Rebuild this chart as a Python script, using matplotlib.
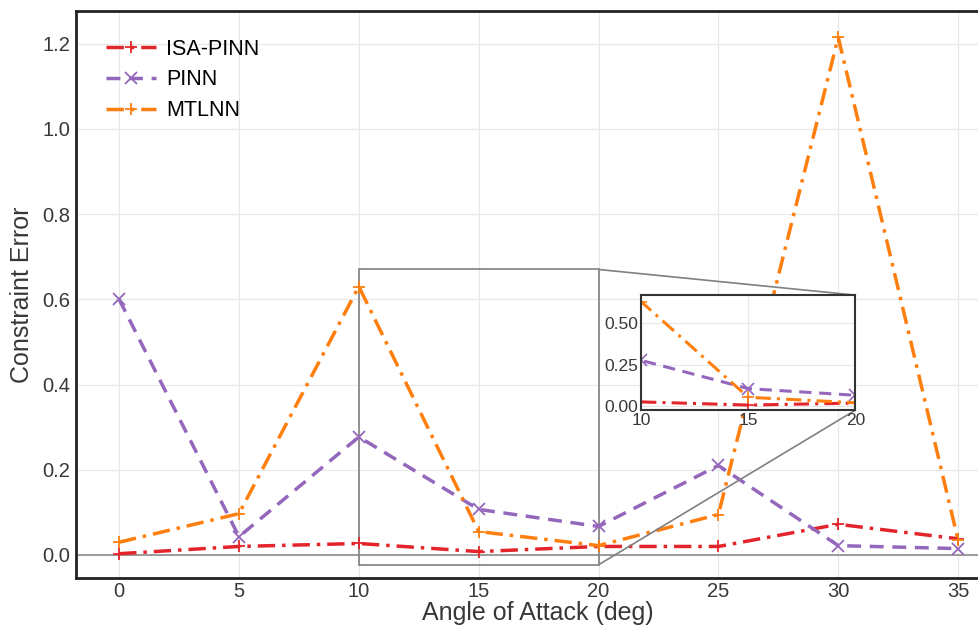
import matplotlib.pyplot as plt
from mpl_toolkits.axes_grid1.inset_locator import mark_inset

plt.rcParams['font.family'] = ['Liberation Sans', 'DejaVu Sans']

angles = [0, 5, 10, 15, 20, 25, 30, 35]
isa_pinn = [0.003, 0.020, 0.027, 0.008, 0.020, 0.020, 0.072, 0.038]
pinn = [0.600, 0.043, 0.277, 0.107, 0.067, 0.210, 0.022, 0.015]
mtlnn = [0.030, 0.097, 0.630, 0.055, 0.022, 0.095, 1.215, 0.035]

series = [
    ("ISA-PINN", isa_pinn, "#e3242b", (0, (5, 2, 1, 2)), "+"),
    ("PINN", pinn, "#9467bd", (0, (4, 2.5)), "x"),
    ("MTLNN", mtlnn, "#ff7f0e", (0, (5, 2, 1, 2)), "+"),
]

fig = plt.figure(figsize=(9.79, 6.36), dpi=100)
ax = fig.add_axes([0.0776, 0.0912, 0.9439, 0.8918])

for name, vals, col, ls, mk in series:
    ax.plot(angles, vals, color=col, linestyle=ls, linewidth=2.5,
            marker=mk, markersize=8, markeredgewidth=1.3, label=name)

ax.axhline(0, color="0.55", linewidth=1.2, zorder=1)
ax.set_xlim(-1.8, 36.75)
ax.set_ylim(-0.054, 1.277)
ax.set_xticks(angles)
ax.set_yticks([0.0, 0.2, 0.4, 0.6, 0.8, 1.0, 1.2])
ax.grid(True, color="#e8e8e8", linewidth=0.9)
ax.set_axisbelow(True)
ax.tick_params(labelsize=14.5, colors="#383838", length=0)
ax.tick_params(axis="x", pad=3)
ax.tick_params(axis="y", pad=4)
ax.set_xlabel("Angle of Attack (deg)", fontsize=18, color="#383838", labelpad=0)
ax.set_ylabel("Constraint Error", fontsize=18, color="#383838", labelpad=6)
for s in ax.spines.values():
    s.set_color("#222222")
    s.set_linewidth(2)

ax.legend(loc="upper left", bbox_to_anchor=(0.0, 1.004), frameon=False,
          fontsize=15.5, handlelength=2.3, labelspacing=0.45, borderaxespad=1.0,
          handletextpad=0.5)

# zoomed inset
axins = fig.add_axes([0.655, 0.355, 0.2186, 0.181])
for name, vals, col, ls, mk in series:
    axins.plot(angles, vals, color=col, linestyle=ls, linewidth=2.2,
               marker=mk, markersize=8, markeredgewidth=1.2)
axins.set_xlim(10, 20)
axins.set_ylim(-0.023, 0.67)
axins.set_xticks([10, 15, 20])
axins.set_yticks([0.0, 0.25, 0.5])
axins.set_yticklabels(["0.00", "0.25", "0.50"])
axins.grid(True, color="#e8e8e8", linewidth=0.8)
axins.tick_params(labelsize=12.5, colors="#383838", length=0, pad=2)
for s in axins.spines.values():
    s.set_color("#333333")
    s.set_linewidth(1.5)

mark_inset(ax, axins, loc1=1, loc2=4, fc="none", ec="0.5", lw=1.2)

fig.savefig("out.png", dpi=100)
